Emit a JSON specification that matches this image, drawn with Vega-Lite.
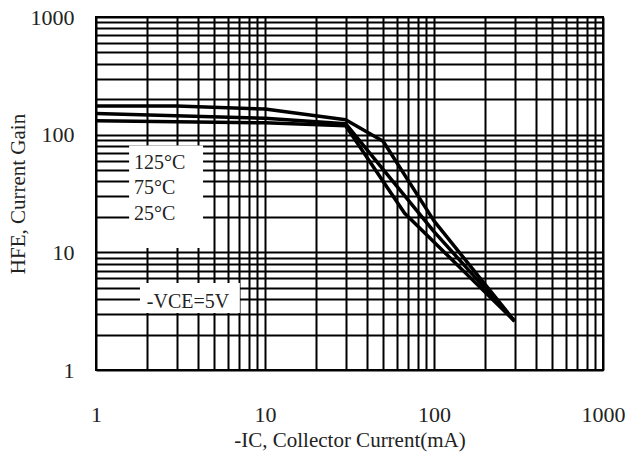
{
  "$schema": "https://vega.github.io/schema/vega-lite/v6.json",
  "width": 507,
  "height": 353,
  "autosize": "none",
  "padding": {"left": 96, "top": 17, "right": 29, "bottom": 89},
  "background": "white",
  "config": {
    "view": {"stroke": "black", "strokeWidth": 2},
    "font": "Liberation Serif",
    "axis": {
      "domain": false,
      "ticks": false,
      "grid": true,
      "gridColor": "black",
      "gridOpacity": 1,
      "gridWidth": 2,
      "labelFont": "Liberation Serif",
      "labelFontSize": 22,
      "labelColor": "#222",
      "labelOverlap": false,
      "labelFlush": false,
      "labelBound": false,
      "titleFont": "Liberation Serif",
      "titleFontSize": 21,
      "titleFontWeight": "normal",
      "titleColor": "#222"
    }
  },
  "datasets": {
    "curves": [
      {"series": "125°C", "ic": 1, "hfe": 175},
      {"series": "125°C", "ic": 3, "hfe": 175},
      {"series": "125°C", "ic": 10, "hfe": 165},
      {"series": "125°C", "ic": 30, "hfe": 134},
      {"series": "125°C", "ic": 50, "hfe": 88},
      {"series": "125°C", "ic": 100, "hfe": 18.5},
      {"series": "125°C", "ic": 300, "hfe": 2.6},
      {"series": "75°C", "ic": 1, "hfe": 151},
      {"series": "75°C", "ic": 10, "hfe": 138},
      {"series": "75°C", "ic": 30, "hfe": 124},
      {"series": "75°C", "ic": 100, "hfe": 15},
      {"series": "75°C", "ic": 300, "hfe": 2.6},
      {"series": "25°C", "ic": 1, "hfe": 131},
      {"series": "25°C", "ic": 10, "hfe": 126},
      {"series": "25°C", "ic": 30, "hfe": 119},
      {"series": "25°C", "ic": 67, "hfe": 21.5},
      {"series": "25°C", "ic": 300, "hfe": 2.6}
    ],
    "boxes": [
      {"ic": 1.57, "ic2": 4.3, "hfe": 81, "hfe2": 10.9},
      {"ic": 1.82, "ic2": 7.1, "hfe": 5.5, "hfe2": 3.05}
    ],
    "notes": [
      {"ic": 1.68, "hfe": 58, "text": "125°C"},
      {"ic": 1.68, "hfe": 35, "text": "75°C"},
      {"ic": 1.68, "hfe": 21, "text": "25°C"},
      {"ic": 2.0, "hfe": 3.78, "text": "-VCE=5V"}
    ]
  },
  "encoding": {
    "x": {
      "field": "ic",
      "type": "quantitative",
      "scale": {"type": "log", "domain": [1, 1000], "nice": false},
      "axis": {
        "title": "-IC, Collector Current(mA)",
        "values": [1, 2, 3, 4, 5, 6, 7, 8, 9, 10, 20, 30, 40, 50, 60, 70, 80, 90, 100, 200, 300, 400, 500, 600, 700, 800, 900, 1000],
        "labelExpr": "datum.value == 1 || datum.value == 10 || datum.value == 100 || datum.value == 1000 ? format(datum.value, 'd') : ''",
        "labelPadding": 34,
        "titlePadding": 4
      }
    },
    "y": {
      "field": "hfe",
      "type": "quantitative",
      "scale": {"type": "log", "domain": [1, 1000], "nice": false},
      "axis": {
        "title": "HFE, Current Gain",
        "values": [1, 2, 3, 4, 5, 6, 7, 8, 9, 10, 20, 30, 40, 50, 60, 70, 80, 90, 100, 200, 300, 400, 500, 600, 700, 800, 900, 1000],
        "labelExpr": "datum.value == 1 || datum.value == 10 || datum.value == 100 || datum.value == 1000 ? format(datum.value, 'd') : ''",
        "labelPadding": 22,
        "titlePadding": 2
      }
    }
  },
  "layer": [
    {
      "data": {"name": "boxes"},
      "mark": {"type": "rect", "fill": "white", "stroke": null},
      "encoding": {
        "x2": {"field": "ic2"},
        "y2": {"field": "hfe2"}
      }
    },
    {
      "data": {"name": "curves"},
      "mark": {"type": "line", "color": "black", "strokeWidth": 3.5, "strokeJoin": "round"},
      "encoding": {
        "detail": {"field": "series", "type": "nominal"}
      }
    },
    {
      "data": {"name": "notes"},
      "mark": {"type": "text", "align": "left", "baseline": "middle", "font": "Liberation Serif", "fontSize": 20, "color": "#222"},
      "encoding": {
        "text": {"field": "text", "type": "nominal"}
      }
    }
  ]
}
